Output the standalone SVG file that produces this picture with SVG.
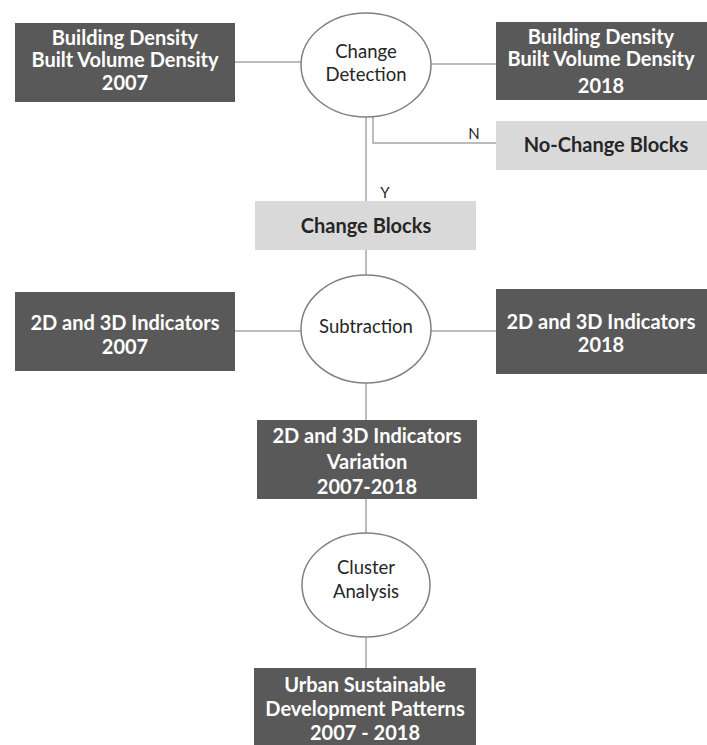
<svg xmlns="http://www.w3.org/2000/svg" width="707" height="745" viewBox="0 0 707 745">
<style>
.dark{fill:#595959;}
.light{fill:#d9d9d9;}
.ell{fill:#ffffff;stroke:#808080;stroke-width:1.5;}
.wt{font-family:Lato,"Open Sans",sans-serif;font-weight:bold;font-size:20px;fill:#ffffff;text-anchor:middle;}
.bt{font-family:Lato,"Open Sans",sans-serif;font-weight:bold;font-size:20px;fill:#262626;text-anchor:middle;}
.ct{font-family:Lato,"Open Sans",sans-serif;font-size:18.5px;fill:#262626;text-anchor:middle;}
.lbl{font-family:Lato,"Open Sans",sans-serif;font-size:15px;fill:#262626;text-anchor:middle;}
.conn{fill:none;stroke:#a6a6a6;stroke-width:1.5;}
</style>
<rect width="707" height="745" fill="#ffffff"/>
<g id="connectors">
<line class="conn" x1="235" y1="62" x2="301" y2="62"/>
<line class="conn" x1="431" y1="64" x2="496" y2="64"/>
<line class="conn" x1="366" y1="117" x2="366" y2="201"/>
<polyline class="conn" points="373,117 373,143 496,143"/>
<line class="conn" x1="366" y1="250" x2="366" y2="275"/>
<line class="conn" x1="235" y1="331" x2="301" y2="331"/>
<line class="conn" x1="431" y1="331" x2="496" y2="331"/>
<line class="conn" x1="366" y1="383" x2="366" y2="420"/>
<line class="conn" x1="366" y1="499" x2="366" y2="533"/>
<line class="conn" x1="366" y1="638" x2="366" y2="668"/>
<text class="lbl" x="474" y="139">N</text>
<text class="lbl" x="385" y="198">Y</text>
</g>
<g id="bd2007">
<rect class="dark" x="15" y="23" width="220" height="79"/>
<text class="wt" x="125" y="45">Building Density</text>
<text class="wt" x="125" y="67">Built Volume Density</text>
<text class="wt" x="125" y="90">2007</text>
</g>
<g id="change-detection">
<ellipse class="ell" cx="366" cy="65" rx="65" ry="52"/>
<text class="ct" x="366" y="58">Change</text>
<text class="ct" x="366" y="81">Detection</text>
</g>
<g id="bd2018">
<rect class="dark" x="496" y="22" width="211" height="78"/>
<text class="wt" x="601" y="44">Building Density</text>
<text class="wt" x="601" y="66">Built Volume Density</text>
<text class="wt" x="601" y="93">2018</text>
</g>
<g id="no-change">
<rect class="light" x="496" y="121" width="211" height="49"/>
<text class="bt" x="606" y="152">No-Change Blocks</text>
</g>
<g id="change-blocks">
<rect class="light" x="255" y="201" width="221" height="49"/>
<text class="bt" x="366" y="233">Change Blocks</text>
</g>
<g id="ind2007">
<rect class="dark" x="15" y="292" width="220" height="79"/>
<text class="wt" x="125" y="330">2D and 3D Indicators</text>
<text class="wt" x="125" y="354">2007</text>
</g>
<g id="subtraction">
<ellipse class="ell" cx="366" cy="329" rx="65" ry="54"/>
<text class="ct" x="366" y="333">Subtraction</text>
</g>
<g id="ind2018">
<rect class="dark" x="496" y="289" width="211" height="85"/>
<text class="wt" x="601" y="329">2D and 3D Indicators</text>
<text class="wt" x="601" y="352">2018</text>
</g>
<g id="variation">
<rect class="dark" x="257" y="420" width="220" height="79"/>
<text class="wt" x="367" y="443">2D and 3D Indicators</text>
<text class="wt" x="367" y="469">Variation</text>
<text class="wt" x="367" y="494">2007-2018</text>
</g>
<g id="cluster">
<ellipse class="ell" cx="366" cy="585" rx="64" ry="52"/>
<text class="ct" x="366" y="574">Cluster</text>
<text class="ct" x="366" y="598">Analysis</text>
</g>
<g id="urban">
<rect class="dark" x="254" y="668" width="222" height="77"/>
<text class="wt" x="365" y="692">Urban Sustainable</text>
<text class="wt" x="365" y="716">Development Patterns</text>
<text class="wt" x="365" y="740">2007 - 2018</text>
</g>
</svg>
